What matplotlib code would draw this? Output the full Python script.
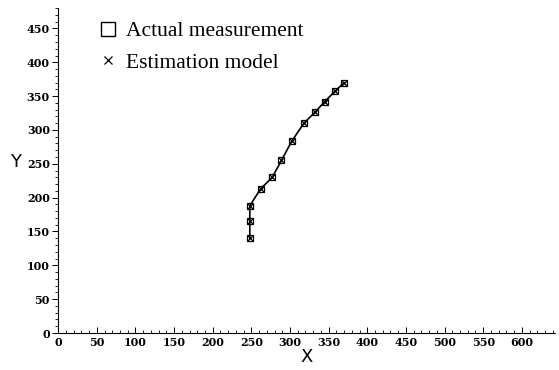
import matplotlib
matplotlib.use('Agg')
import matplotlib.pyplot as plt
from matplotlib.ticker import MultipleLocator

# values
actual_x = [248, 248, 248, 262, 277, 289, 302, 318, 333, 345, 358, 370]
actual_y = [140, 165, 188, 213, 230, 255, 283, 310, 327, 342, 357, 370]
model_x = [248, 248, 248, 262, 277, 289, 302, 318, 333, 345, 358, 370]
model_y = [140, 165, 188, 213, 230, 255, 283, 310, 327, 342, 357, 370]

fig = plt.figure(figsize=(5.59, 3.70), dpi=100)
ax = fig.add_axes([0.104, 0.10, 0.889, 0.878])

ax.plot(model_x, model_y, color='black', linewidth=1.2)
ax.plot(actual_x, actual_y, linestyle='none', marker='s', markersize=5,
        markerfacecolor='none', markeredgecolor='black', markeredgewidth=0.9,
        label='Actual measurement')
ax.plot(model_x, model_y, linestyle='none', marker='x', markersize=4.5,
        color='black', markeredgewidth=0.9, label='Estimation model')

ax.set_xlim(0, 643)
ax.set_ylim(0, 480)
ax.xaxis.set_minor_locator(MultipleLocator(10))
ax.yaxis.set_minor_locator(MultipleLocator(10))
ax.set_xticks(range(0, 601, 50))
ax.set_yticks(range(0, 451, 50))

for s in ['top', 'right']:
    ax.spines[s].set_visible(False)
ax.spines['left'].set_linewidth(0.8)
ax.spines['bottom'].set_linewidth(0.8)
ax.spines['bottom'].set_linestyle((0, (6, 1)))

ax.tick_params(axis='x', which='major', direction='in', length=4, width=0.7, pad=3)
ax.tick_params(axis='x', which='minor', direction='in', length=2, width=0.6)
ax.tick_params(axis='y', which='major', direction='out', length=4, width=0.7, pad=2)
ax.tick_params(axis='y', which='minor', direction='out', length=2, width=0.6)
for lab in ax.get_xticklabels() + ax.get_yticklabels():
    lab.set_fontfamily('DejaVu Serif')
    lab.set_fontsize(8)
    lab.set_fontweight('bold')

ax.set_xlabel('X', fontsize=13, fontfamily='DejaVu Sans', labelpad=0)
ax.set_ylabel('Y', fontsize=13, fontfamily='DejaVu Sans', rotation=0)
ax.yaxis.set_label_coords(-0.085, 0.50)

leg = ax.legend(loc='upper left', bbox_to_anchor=(98 / 559, 1 - 21 / 370),
                bbox_transform=fig.transFigure, frameon=False, borderpad=0,
                borderaxespad=0, prop={'family': 'Liberation Serif', 'size': 15.5},
                handlelength=0.9, handletextpad=0.4, labelspacing=0.55)
leg.legend_handles[0].set_markersize(10)
leg.legend_handles[0].set_markeredgewidth(1.0)
leg.legend_handles[1].set_markersize(6)

fig.savefig('out.png', dpi=100)
